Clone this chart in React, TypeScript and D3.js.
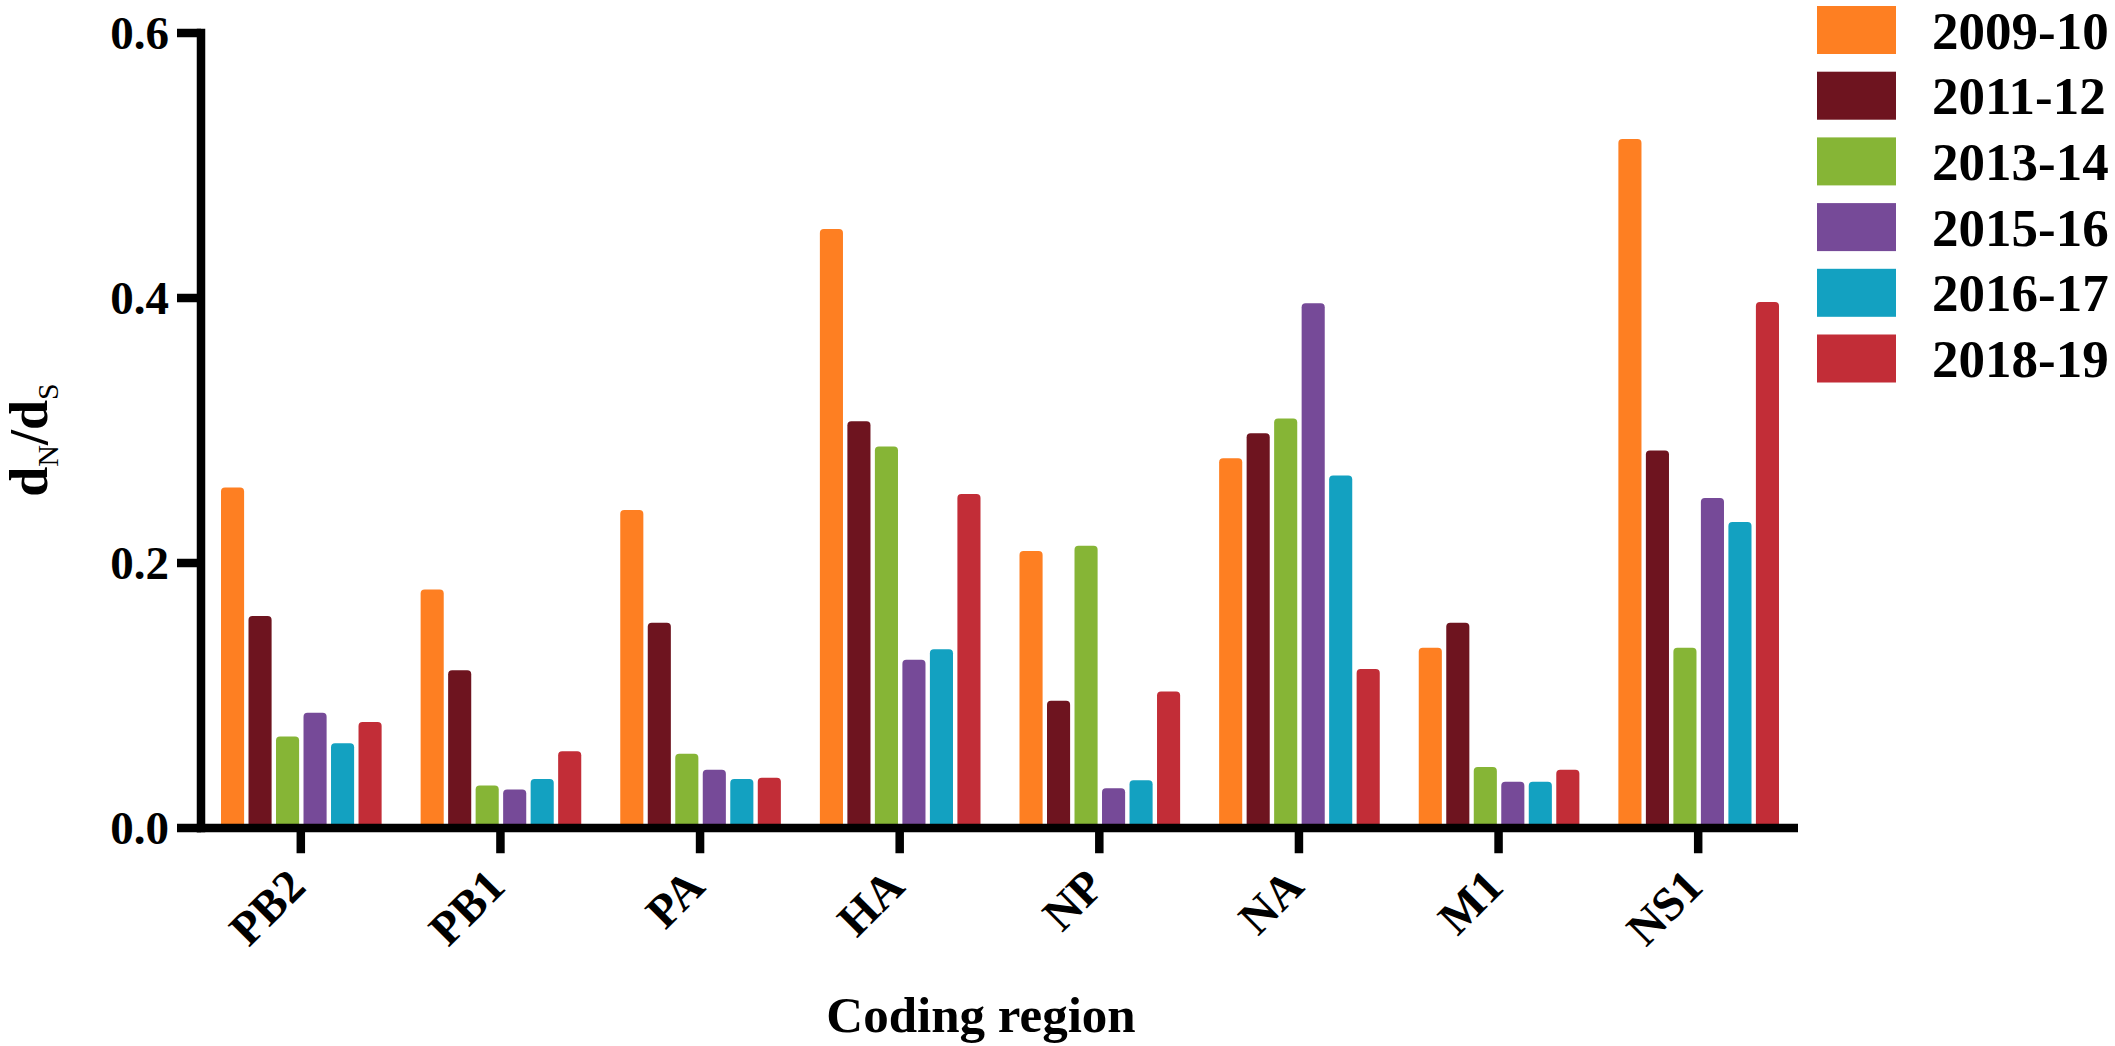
import React from "react";
import * as d3 from "d3";

const categories = ["PB2", "PB1", "PA", "HA", "NP", "NA", "M1", "NS1"];
const seriesNames = ["2009-10", "2011-12", "2013-14", "2015-16", "2016-17", "2018-19"];
const seriesColors = ["#FE7F22", "#6E141F", "#86B536", "#764A98", "#13A1C1", "#C22D37"];

const s2009 = [0.257, 0.180, 0.240, 0.452, 0.209, 0.279, 0.136, 0.520];
const s2011 = [0.160, 0.119, 0.155, 0.307, 0.096, 0.298, 0.155, 0.285];
const s2013 = [0.069, 0.032, 0.056, 0.288, 0.213, 0.309, 0.046, 0.136];
const s2015 = [0.087, 0.029, 0.044, 0.127, 0.030, 0.396, 0.035, 0.249];
const s2016 = [0.064, 0.037, 0.037, 0.135, 0.036, 0.266, 0.035, 0.231];
const s2018 = [0.080, 0.058, 0.038, 0.252, 0.103, 0.120, 0.044, 0.397];
const seriesValues = [s2009, s2011, s2013, s2015, s2016, s2018];

const yTicks = [0, 0.2, 0.4, 0.6];

const W = 2115;
const H = 1046;
const FONT = "'Liberation Serif', 'Times New Roman', Times, serif";

function topRoundedBar(x: number, y: number, w: number, h: number, r: number) {
  const rr = Math.min(r, w / 2, h);
  const p = d3.path();
  p.moveTo(x, y + h);
  p.lineTo(x, y + rr);
  p.quadraticCurveTo(x, y, x + rr, y);
  p.lineTo(x + w - rr, y);
  p.quadraticCurveTo(x + w, y, x + w, y + rr);
  p.lineTo(x + w, y + h);
  p.closePath();
  return p.toString();
}

export default function App() {
  const axisX = 201;
  const axisRight = 1798;
  const y = d3.scaleLinear().domain([0, 0.6]).range([828, 33]);
  const x0 = d3.scaleBand<string>().domain(categories).range([axisX, axisRight]).paddingInner(0).paddingOuter(0);
  const x1 = d3
    .scaleBand<string>()
    .domain(seriesNames)
    .range([20, x0.bandwidth() - 19])
    .paddingInner(0.16)
    .paddingOuter(0);

  const lw = 8.5;
  const tickLen = 24;
  const txt = { fontFamily: FONT } as React.CSSProperties;

  return (
    <div style={{ position: "absolute", left: 0, top: 0, width: W, height: H, background: "#fff" }}>
      <svg width={W} height={H} viewBox={`0 0 ${W} ${H}`} style={{ display: "block", fontFamily: FONT }}>
        <rect x={0} y={0} width={W} height={H} fill="#fff" />
        {/* bars */}
        {categories.map((c, ci) => (
          <g key={c} transform={`translate(${x0(c)},0)`}>
            {seriesNames.map((s, si) => {
              const v = seriesValues[si][ci];
              const top = y(v);
              return (
                <path
                  key={s}
                  d={topRoundedBar(x1(s)!, top, x1.bandwidth(), y(0) - top, 4)}
                  fill={seriesColors[si]}
                />
              );
            })}
          </g>
        ))}
        {/* y axis */}
        <line x1={axisX} x2={axisX} y1={y(0.6) - lw / 2} y2={y(0) + lw / 2} stroke="#000" strokeWidth={lw} />
        {yTicks.map((t) => (
          <g key={t}>
            <line x1={axisX - tickLen} x2={axisX} y1={y(t)} y2={y(t)} stroke="#000" strokeWidth={lw} />
            <text
              x={169}
              y={y(t)}
              dy="0.34em"
              textAnchor="end"
              style={txt}
              fontWeight="bold"
              fontSize={47}
              fill="#000"
            >
              {t.toFixed(1)}
            </text>
          </g>
        ))}
        {/* x axis */}
        <line x1={axisX - lw / 2} x2={axisRight} y1={y(0)} y2={y(0)} stroke="#000" strokeWidth={lw} />
        {categories.map((c) => {
          const cx = x0(c)! + x0.bandwidth() / 2;
          return (
            <g key={c}>
              <line x1={cx} x2={cx} y1={y(0)} y2={y(0) + lw / 2 + 21} stroke="#000" strokeWidth={lw} />
              <text
                transform={`translate(${cx + 7},${889}) rotate(-45)`}
                textAnchor="end"
                style={txt}
                fontWeight="bold"
                fontSize={47}
                fill="#000"
              >
                {c}
              </text>
            </g>
          );
        })}
        {/* axis titles */}
        <text
          x={981}
          y={1032}
          textAnchor="middle"
          style={txt}
          fontWeight="bold"
          fontSize={51}
          fill="#000"
        >
          Coding region
        </text>
        <text
          transform="translate(47,440) rotate(-90)"
          textAnchor="middle"
          style={txt}
          fill="#000"
        >
          <tspan fontWeight="bold" fontSize={54}>d</tspan>
          <tspan fontWeight="normal" fontSize={30} dy={11}>N</tspan>
          <tspan fontWeight="bold" fontSize={54} dy={-11}>/</tspan>
          <tspan fontWeight="bold" fontSize={54}>d</tspan>
          <tspan fontWeight="normal" fontSize={30} dy={11}>S</tspan>
        </text>
        {/* legend */}
        {seriesNames.map((s, i) => {
          const top = 6 + i * 65.7;
          return (
            <g key={s}>
              <rect x={1817} y={top} width={79} height={48} fill={seriesColors[i]} />
              <text
                x={1932}
                y={top + 24}
                dy="0.35em"
                style={txt}
                fontWeight="bold"
                fontSize={53}
                fill="#000"
              >
                {s}
              </text>
            </g>
          );
        })}
      </svg>
    </div>
  );
}
